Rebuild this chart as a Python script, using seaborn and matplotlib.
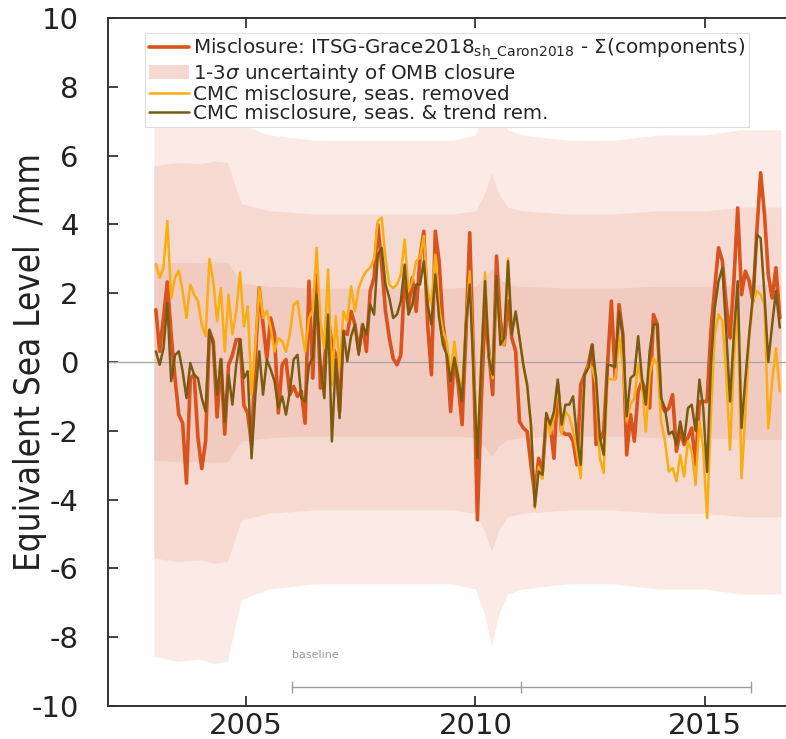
import numpy as np
import pandas as pd
import matplotlib
matplotlib.use("Agg")
import matplotlib.pyplot as plt
import seaborn as sns
from matplotlib.patches import Patch
from matplotlib.lines import Line2D

# ---------------- data ----------------
start_year = 2003
misclosure = [1.52, 0.31, 1.3, 2.33, 0.8, -0.47, -1.53, -1.78, -3.52, -0.47,
              -0.37, -2.2, -3.1, -2.3, 0.9, 0.6, -1.6, 0.07, -2.1, -0.08,
              0.2, 0.65, 0.65, -1.25, -1.5, -2.4, 0.1, 2.15, 1.1, 0.1,
              1.28, 0.8, -1.48, -0.08, 0.07, -0.95, -0.71, -1.0, -0.85, -1.78,
              2.35, -0.47, 2.54, -0.76, -0.08, 1.28, 0.5, 0.21, -1.44, 0.9,
              0.8, 1.47, 1.09, 0.31, 1.09, 0.31, 2.06, 2.45, 4.0, 2.83,
              1.47, 0.7, 0.1, -0.08, 0.2, 2.45, 1.57, 2.45, 1.47, 3.03,
              3.8, 1.09, -0.37, 3.8, 2.93, 1.09, 0.31, -1.44, 0.12, -0.66,
              -1.82, 0.8, 3.76, 0.0, -4.59, -1.2, 1.5, 0.3, -0.95, 3.08,
              1.2, 0.5, 1.77, 0.7, 0.31, -1.73, -1.92, -2.02, -3.0, -3.86,
              -2.8, -3.18, -1.63, -1.82, -2.8, -0.66, -2.02, -2.1, -2.1, -2.3,
              -2.99, -0.66, -0.37, -0.08, 0.5, -2.4, -2.3, -2.0, -0.08, 1.77,
              -0.47, 1.67, 0.8, -2.7, -1.53, -2.3, -0.85, -0.56, -0.85, -1.34,
              1.38, 1.09, -1.24, -1.44, -1.34, -0.95, -2.6, -2.02, -2.4, -2.2,
              -1.92, -2.99, -1.15, -1.15, -1.15, 0.9, 2.15, 3.32, 2.93, 1.67,
              0.7, 2.35, 4.48, 1.96, 2.64, 2.35, 1.77, 3.8, 5.5, 4.29,
              2.54, 1.86, 2.74, 1.28]
seas_removed = [2.85, 2.45, 2.74, 4.1, 1.86, 2.45, 2.66, 2.06, 1.28, 2.25,
                1.96, 1.77, 1.09, 0.75, 3.0, 2.35, 1.18, 2.15, 0.31, 1.96,
                0.8, 1.47, 2.6, 1.04, 1.62, -0.95, 0.5, 2.15, 1.28, 1.5,
                1.0, 0.31, 0.7, 0.6, 0.3, 0.8, 1.67, 1.77, 1.0, 0.31,
                1.28, 1.5, 3.32, 1.18, 0.4, 2.69, -0.66, 1.33, -0.17, 1.47,
                1.18, 2.2, 1.47, 2.15, 2.45, 2.64, 2.74, 3.0, 4.1, 4.2,
                3.0, 2.25, 2.15, 2.25, 2.54, 3.56, 2.06, 2.35, 2.93, 3.03,
                3.66, 2.06, 1.67, 3.12, 1.57, 0.9, 0.6, -0.37, 0.6, -0.37,
                -0.85, 1.09, 2.64, 0.0, -2.6, -0.1, 2.6, 0.3, -0.47, 2.45,
                0.7, 0.5, 3.0, 0.9, 1.38, 0.7, -0.1, -0.7, -1.9, -4.25,
                -3.05, -3.4, -1.53, -2.1, -1.6, -0.66, -2.1, -1.43, -1.6, -2.0,
                -2.6, -3.38, -0.47, -0.08, -0.17, -0.66, -2.8, -3.23, -0.47, -0.51,
                -0.51, 0.75, -0.08, -1.73, -1.24, -1.05, -0.08, -0.66, -2.02, -0.37,
                0.12, -0.08, -1.73, -2.3, -3.18, -3.08, -3.47, -2.7, -3.33, -2.3,
                -2.6, -3.57, -1.73, -2.5, -4.54, -1.55, 0.8, 1.38, 1.2, -0.37,
                -2.55, 0.02, 1.77, -3.38, -1.53, 0.7, 1.77, 2.06, 1.96, 1.67,
                -1.92, -0.56, 0.4, -0.85]
trend_removed = [0.31, -0.08, 0.4, 1.72, -0.56, 0.2, 0.31, -0.27, -1.05, -0.03,
                 -0.37, -0.47, -1.05, -1.44, 0.94, 0.5, -0.95, 0.07, -1.73, -0.37,
                 -1.24, -0.08, 0.65, -0.47, -0.27, -2.8, -0.95, 0.31, -0.95, 0.07,
                 -0.22, -0.56, -1.34, -1.0, -1.53, -0.85, 0.07, 0.21, -1.05, -1.15,
                 -0.08, 0.12, 1.96, -0.08, -1.05, 1.38, -2.31, 0.07, -1.63, 0.9,
                 0.02, 0.75, 1.09, 0.21, 1.09, 0.8, 1.67, 1.38, 3.12, 3.32,
                 2.25, 1.86, 1.28, 1.38, 1.77, 2.83, 1.38, 1.67, 2.25, 2.25,
                 2.93, 1.67, 1.09, 2.54, 1.28, 0.5, 0.21, -0.56, 0.12, -0.47,
                 -1.15, 1.09, 2.25, -0.27, -2.8, -0.08, 2.35, 0.1, -0.37, 2.5,
                 0.5, 0.7, 2.93, 0.8, 1.47, 0.7, -0.08, -0.66, -1.82, -4.2,
                 -3.18, -3.28, -1.48, -1.82, -1.44, -0.51, -1.82, -1.24, -1.24, -1.0,
                 -2.2, -2.99, -0.37, -0.17, 0.5, -0.47, -2.2, -2.7, -0.08, -0.1,
                 -0.15, 1.47, 0.8, -1.58, -0.47, -0.37, 0.75, -0.47, -1.24, 0.31,
                 1.09, 1.09, -1.05, -1.34, -2.1, -2.02, -2.4, -1.73, -2.3, -1.34,
                 -1.24, -2.0, -0.51, -1.34, -3.2, -0.1, 1.57, 2.35, 2.74, 0.9,
                 -1.15, 0.8, 2.35, -1.92, -0.5, 0.8, 1.96, 3.7, 3.6, 1.96,
                 0.0, 1.09, 2.06, 1.0]

# 1-sigma uncertainty of OMB closure at knot years
sigma_years = [2003.0, 2003.5, 2004.0, 2004.3, 2004.6, 2004.75, 2004.9, 2005.5,
               2006.5, 2007.5, 2008.5, 2009.5, 2010.0, 2010.2, 2010.35, 2010.5,
               2010.7, 2011.0, 2012.0, 2013.0, 2014.0, 2015.0, 2015.8, 2016.65]
sigma_vals = [2.85, 2.9, 2.88, 2.92, 2.9, 2.6, 2.3, 2.2,
              2.15, 2.15, 2.15, 2.15, 2.2, 2.45, 2.75, 2.45,
              2.25, 2.2, 2.15, 2.15, 2.2, 2.2, 2.25, 2.25]

baseline_years = [2006, 2011, 2016]
baseline_level = -9.45

labels = [r"Misclosure: ITSG-Grace2018$_{\mathrm{sh\_Caron2018}}$ - $\Sigma$(components)",
          r"1-3$\sigma$ uncertainty of OMB closure",
          "CMC misclosure, seas. removed",
          "CMC misclosure, seas. & trend rem."]

# ---------------- styling ----------------
sns.set_style("ticks")
plt.rcParams["font.family"] = ["DejaVu Sans"]
plt.rcParams["axes.unicode_minus"] = False

c_red = "#d9531e"
c_yel = "#f8ad10"
c_olv = "#7b5a12"
band_cols = ["#fbeae5", "#f6dad1", "#f1cbbf"]

n = len(misclosure)
t = start_year + (np.arange(n) + 0.5) / 12.0
df = pd.DataFrame({"t": t, "mis": misclosure, "seas": seas_removed, "trend": trend_removed})

fig = plt.figure(figsize=(7.86, 7.39), dpi=100)
ax = fig.add_axes([0.1374, 0.0447, 0.8626, 0.9309])

sy = np.array(sigma_years)
sv = np.array(sigma_vals)
for k, col in zip([3, 2, 1], band_cols):
    ax.fill_between(sy, -k * sv, k * sv, color=col, lw=0, zorder=1)

ax.axhline(0, color="#a9a9a9", lw=1.0, zorder=2)

sns.lineplot(data=df, x="t", y="mis", ax=ax, color=c_red, lw=2.6, zorder=3, legend=False)
sns.lineplot(data=df, x="t", y="seas", ax=ax, color=c_yel, lw=1.8, zorder=4, legend=False)
sns.lineplot(data=df, x="t", y="trend", ax=ax, color=c_olv, lw=1.8, zorder=5, legend=False)

# baseline marker
ax.plot([baseline_years[0], baseline_years[-1]], [baseline_level] * 2, color="#9b9b9b", lw=1.0, zorder=3)
ax.plot(baseline_years, [baseline_level] * 3, ls="none", marker="|", ms=8, color="#9b9b9b", mew=1.0, zorder=3)
ax.text(baseline_years[0], baseline_level + 0.8, "baseline", fontsize=8, color="#9b9b9b",
        ha="left", va="bottom")

ax.set_xlim(2002.0, 2016.76)
ax.set_ylim(-10, 10)
ax.set_xticks([2005, 2010, 2015])
ax.set_yticks(np.arange(-10, 11, 2))
ax.tick_params(direction="in", length=7, width=1.3, color="#333333", labelsize=21,
               top=True, right=False, labelcolor="#222222")
ax.tick_params(axis="x", pad=4)
ax.tick_params(axis="y", pad=21)
for s in ["left", "bottom", "top"]:
    ax.spines[s].set_linewidth(1.4)
    ax.spines[s].set_color("#333333")
ax.spines["right"].set_visible(False)
ax.set_xlabel("")
ax.set_ylabel("Equivalent Sea Level  /mm", fontsize=25, color="#222222", fontstretch="condensed")
ax.yaxis.set_label_coords(-0.115, 0.5)
ax.yaxis.label.set_va("center")

handles = [Line2D([], [], color=c_red, lw=2.6),
           Patch(facecolor=band_cols[1], edgecolor="none"),
           Line2D([], [], color=c_yel, lw=1.8),
           Line2D([], [], color=c_olv, lw=1.8)]
leg = ax.legend(handles, labels, loc="upper left", bbox_to_anchor=(0.055, 0.978), fontsize=14.3,
                frameon=True, fancybox=False, framealpha=1.0, edgecolor="#dddddd",
                handlelength=2.0, handletextpad=0.2, labelspacing=0.0, borderpad=0.2,
                borderaxespad=0)
leg.get_frame().set_linewidth(0.8)
leg.set_zorder(10)

fig.savefig("out.png", dpi=100)
